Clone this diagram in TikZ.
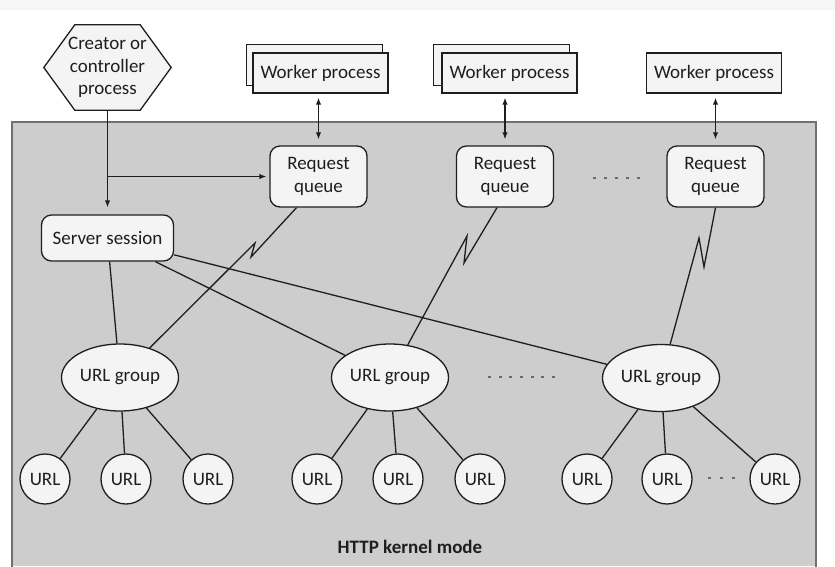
\documentclass[tikz,border=0pt]{standalone}
\usepackage{fontspec}
\setmainfont{Carlito}
\usetikzlibrary{shapes.geometric,calc,arrows.meta}
\pgfdeclarelayer{background}
\pgfsetlayers{background,main}
\definecolor{panelfill}{HTML}{CDCDCD}
\definecolor{paneledge}{HTML}{707070}
\definecolor{nodefill}{HTML}{F4F4F4}
\definecolor{linec}{HTML}{1E1E1E}
\definecolor{dotc}{HTML}{6A6A6A}
\definecolor{topband}{HTML}{F6F6F6}
\begin{document}
\begin{tikzpicture}[x=1pt,y=-1pt,
  font=\fontsize{19}{22.5}\selectfont, text=linec,
  box/.style={draw=linec, fill=nodefill, line width=1.3pt},
  worker/.style={box, minimum width=135pt, minimum height=40pt, inner sep=0pt},
  queue/.style={box, rounded corners=10pt, minimum width=97pt, minimum height=61pt, inner sep=0pt, align=center},
  sessionbox/.style={box, rounded corners=10pt, minimum width=132pt, minimum height=46pt, inner sep=0pt},
  group/.style={box, ellipse, minimum width=117pt, minimum height=67pt, inner sep=0pt},
  url/.style={box, circle, minimum size=50pt, inner sep=0pt},
  link/.style={draw=linec, line width=1.3pt},
  ktip/.tip={Latex[length=7pt,width=5.5pt]},
  arrow/.style={link, -ktip},
  twoway/.style={link, ktip-ktip, shorten <=4pt, shorten >=6pt},
  dots/.style={draw=dotc, line width=2.6pt}
]
\useasboundingbox (0,0) rectangle (835,566);

% nodes
\node[align=center, minimum width=127pt, minimum height=85pt, inner sep=0pt] (cr) at (107.5,67.5) {Creator or\\controller\\process};
\node[worker] (w1) at (320.5,73) {Worker process};
\node[worker] (w2) at (509.5,73) {Worker process};
\node[worker] (w3) at (714,73) {Worker process};
\node[queue] (rq1) at (318.5,176.5) {Request\\queue};
\node[queue] (rq2) at (505,176.5) {Request\\queue};
\node[queue] (rq3) at (715.5,176.5) {Request\\queue};
\node[sessionbox] (ss) at (107.5,238) {Server session};
\node[group] (g1) at (120,377.5) {URL group};
\node[group] (g2) at (390,377.5) {URL group};
\node[group] (g3) at (661,378) {URL group};
\node[url] (u11) at (45,479) {URL};
\node[url] (u12) at (126,479) {URL};
\node[url] (u13) at (208,479) {URL};
\node[url] (u21) at (317,479) {URL};
\node[url] (u22) at (398,479) {URL};
\node[url] (u23) at (480,479) {URL};
\node[url] (u31) at (587,479) {URL};
\node[url] (u32) at (667,479) {URL};
\node[url] (u33) at (775,479) {URL};
\node[font=\fontsize{19}{22.5}\selectfont\bfseries] (mode) at (410,547) {HTTP kernel mode};

\begin{pgfonlayer}{background}
\fill[topband] (0,0) rectangle (835,10);
\fill[panelfill] (12,122) rectangle (816,566);
\draw[paneledge, line width=2pt] (12,567) -- (12,122) -- (816,122) -- (816,567);
\draw[box] (cr.west) -- ($(cr.north west)+(31,0)$) -- ($(cr.north east)+(-31,0)$) -- (cr.east)
  -- ($(cr.south east)+(-31,0)$) -- ($(cr.south west)+(31,0)$) -- cycle;
\draw[box] ($(w1.north west)+(-6,-8)$) rectangle ($(w1.south east)+(-6,-8)$);
\draw[box] ($(w2.north west)+(-8,-8)$) rectangle ($(w2.south east)+(-8,-8)$);
\end{pgfonlayer}

% creator connectors
\draw[arrow, shorten >=7pt] (cr.south) -- (ss.north);
\draw[arrow, shorten >=3pt] (cr.south |- rq1.west) -- (rq1.west);

% worker <-> queue
\draw[twoway] (rq1.north |- w1.south) -- (rq1.north);
\draw[twoway] (rq2.north |- w2.south) -- (rq2.north);
\draw[twoway] (rq3.north |- w3.south) -- (rq3.north);

% session to groups
\draw[link] (ss) -- (g1);
\draw[link] (ss) -- (g2);
\draw[link] (ss) -- (g3);

% queue to groups (lightning)
\coordinate (v1) at (251,257); \coordinate (p1) at (255,243);
\coordinate (v2) at (464,263); \coordinate (p2) at (467,236);
\coordinate (v3) at (704,267); \coordinate (p3) at (699,238);
\draw[link, line join=miter] ($(rq1.south)+(-22,0)$) -- (v1) -- (p1) -- (g1);
\draw[link, line join=miter] ($(rq2.south)+(-8,0)$) -- (v2) -- (p2) -- (g2);
\draw[link, line join=miter] (rq3.south) -- (v3) -- (p3) -- (g3);

% groups to URLs
\foreach \g/\a/\b/\c in {g1/u11/u12/u13, g2/u21/u22/u23, g3/u31/u32/u33}{
  \draw[link] (\g) -- (\a);
  \draw[link] (\g) -- (\b);
  \draw[link] (\g) -- (\c);
}

% ellipsis dots
\draw[dots, dash pattern=on 3pt off 8pt] (593,178) -- (640,178);
\draw[dots, dash pattern=on 3pt off 7.67pt] (488,377) -- (555,377);
\draw[dots, dash pattern=on 3pt off 9pt] (708,478) -- (735,478);
\end{tikzpicture}
\end{document}
